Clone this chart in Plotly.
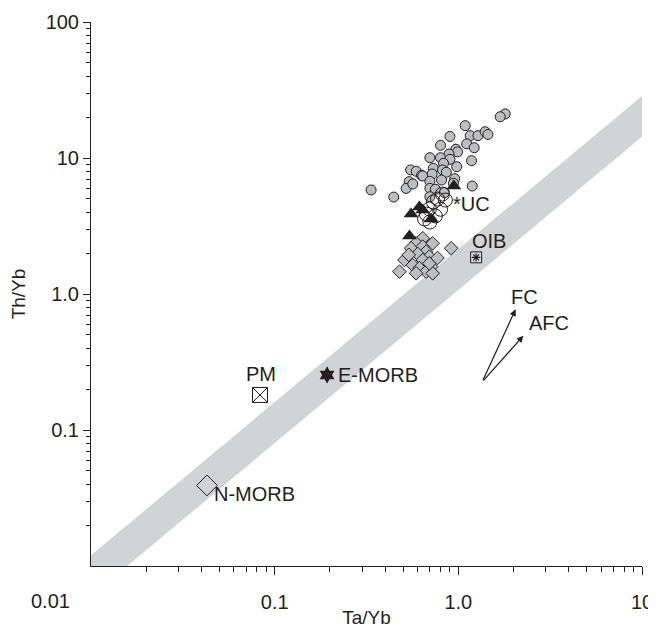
import numpy as np
import plotly.graph_objects as go

# ---------------- data ----------------
# sample groups (Ta/Yb, Th/Yb)
grp_circle_ta = [1.80, 1.69, 1.09, 1.16, 1.28, 1.40, 1.45, 0.90, 1.11, 1.22, 0.80, 0.97, 0.99,
                 0.89, 0.70, 0.80, 0.90, 1.18, 0.98, 0.73, 0.83, 0.82, 0.55, 0.59, 0.63, 0.64,
                 0.86, 0.72, 0.54, 0.52, 0.70, 0.81, 0.955, 0.94, 1.19, 0.70, 0.75, 0.84, 0.335,
                 0.445, 0.70, 0.565]
grp_circle_th = [21.1, 20.1, 17.3, 14.6, 14.6, 15.6, 14.9, 14.4, 12.7, 11.9, 12.4, 11.6, 11.1,
                 10.7, 10.05, 10.05, 9.78, 9.55, 8.63, 8.40, 9.14, 8.17, 8.17, 7.98, 7.46, 7.38,
                 7.85, 7.62, 6.70, 5.98, 6.74, 6.89, 7.05, 6.52, 6.22, 5.98, 5.89, 5.56, 5.82,
                 5.16, 5.19, 6.44]

grp_diamond_ta = [0.64, 0.589, 0.725, 0.553, 0.64, 0.668, 0.601, 0.695, 0.509, 0.64, 0.565,
                  0.711, 0.614, 0.668, 0.478, 0.914, 0.725, 0.589, 0.537, 0.695, 0.77]
grp_diamond_th = [2.57, 2.36, 2.36, 2.17, 2.23, 2.05, 1.97, 1.88, 1.78, 1.78, 1.63,
                  1.59, 1.55, 1.46, 1.46, 2.17, 1.42, 1.42, 1.94, 1.68, 1.84]

grp_open_ta = [0.819, 0.77, 0.732, 0.696, 0.67, 0.655, 0.70, 0.75, 0.80, 0.85]
grp_open_th = [5.43, 4.99, 4.75, 4.22, 3.87, 3.56, 3.38, 3.75, 4.20, 4.91]

grp_tri_ta = [0.946, 0.614, 0.553, 0.711, 0.542, 0.64]
grp_tri_th = [6.22, 4.37, 3.87, 3.56, 2.67, 4.15]

# reference compositions
ref_names = ["N-MORB", "PM", "E-MORB", "OIB", "UC"]
ref_ta_yb = [0.0428, 0.0832, 0.193, 1.25, 0.976]
ref_th_yb = [0.0391, 0.181, 0.254, 1.86, 4.67]

# MORB-OIB mantle array (upper and lower boundaries)
array_upper_ta = [0.01, 10.0]
array_upper_th = [0.0120, 28.6]
array_lower_ta = [10.0, 0.01]
array_lower_th = [14.3, 0.0060]

# process vectors
vec_origin = (1.35, 0.226)
vec_fc = (2.05, 0.772)
vec_afc = (2.26, 0.493)

x_ticks = [0.1, 1, 10]
x_tick_text = ["0.1", "1.0", "10"]
y_ticks = [0.1, 1, 10, 100]
y_tick_text = ["0.1", "1.0", "10", "100"]

# ---------------- figure ----------------
INK = "#231f20"
FONT = "Liberation Sans, Arial, Helvetica, sans-serif"

fig = go.Figure()

fig.add_trace(go.Scatter(
    x=array_upper_ta + array_lower_ta + [array_upper_ta[0]],
    y=array_upper_th + array_lower_th + [array_upper_th[0]],
    mode="lines", fill="toself", fillcolor="#d2d3d5",
    line=dict(width=0, color="#d2d3d5"), hoverinfo="skip"))

fig.add_trace(go.Scatter(
    x=grp_circle_ta, y=grp_circle_th, mode="markers",
    marker=dict(symbol="circle", size=10, color="#bcbec0", line=dict(color=INK, width=1))))

fig.add_trace(go.Scatter(
    x=grp_diamond_ta, y=grp_diamond_th, mode="markers",
    marker=dict(symbol="diamond", size=10.5, color="#bcbec0", line=dict(color=INK, width=1))))

fig.add_trace(go.Scatter(
    x=grp_open_ta, y=grp_open_th, mode="markers",
    marker=dict(symbol="circle-open", size=14, color=INK, line=dict(color=INK, width=1))))

fig.add_trace(go.Scatter(
    x=grp_tri_ta, y=grp_tri_th, mode="markers",
    marker=dict(symbol="triangle-up", size=13, color=INK, line=dict(color=INK, width=0))))

# reference symbols
fig.add_trace(go.Scatter(
    x=[ref_ta_yb[0]], y=[ref_th_yb[0]], mode="markers",
    marker=dict(symbol="diamond-open", size=16, color=INK, line=dict(color=INK, width=1))))
fig.add_trace(go.Scatter(
    x=[ref_ta_yb[1]], y=[ref_th_yb[1]], mode="markers",
    marker=dict(symbol="square-x-open", size=15, color=INK, line=dict(color=INK, width=1))))
fig.add_trace(go.Scatter(
    x=[ref_ta_yb[2]], y=[ref_th_yb[2]], mode="markers",
    marker=dict(symbol="hexagram", size=13, color=INK, line=dict(color=INK, width=0))))
fig.add_trace(go.Scatter(
    x=[ref_ta_yb[3]], y=[ref_th_yb[3]], mode="markers",
    marker=dict(symbol="square", size=11, color="#d9d9d9", line=dict(color=INK, width=1))))
fig.add_trace(go.Scatter(
    x=[ref_ta_yb[3]], y=[ref_th_yb[3]], mode="markers",
    marker=dict(symbol="asterisk-open", size=7, color=INK, line=dict(color=INK, width=1.2))))

ann_font = dict(family=FONT, size=20, color=INK)
label_style = {
    "N-MORB": dict(xanchor="left", xshift=5, yshift=-9, text="N-MORB"),
    "PM": dict(xanchor="center", xshift=1, yshift=21, text="PM"),
    "E-MORB": dict(xanchor="left", xshift=9, yshift=0, text="E-MORB"),
    "OIB": dict(xanchor="left", xshift=-6, yshift=16, text="OIB"),
    "UC": dict(xanchor="left", xshift=-5, yshift=-1, text="*UC"),
}
for name, tx, ty in zip(ref_names, ref_ta_yb, ref_th_yb):
    st = label_style[name]
    fig.add_annotation(x=np.log10(tx), y=np.log10(ty), text=st["text"], showarrow=False,
                       xanchor=st["xanchor"], yanchor="middle",
                       xshift=st["xshift"], yshift=st["yshift"], font=ann_font)

for tip, lab, dx, dy in [(vec_fc, "FC", 9, 12), (vec_afc, "AFC", 26, 13)]:
    fig.add_annotation(x=np.log10(tip[0]), y=np.log10(tip[1]),
                       ax=np.log10(vec_origin[0]), ay=np.log10(vec_origin[1]),
                       axref="x", ayref="y", xref="x", yref="y", text="",
                       showarrow=True, arrowhead=2, arrowsize=1.1, arrowwidth=1.2,
                       arrowcolor=INK)
    fig.add_annotation(x=np.log10(tip[0]), y=np.log10(tip[1]), text=lab, showarrow=False,
                       xanchor="center", yanchor="middle", xshift=dx, yshift=dy, font=ann_font)

# corner label 0.01
fig.add_annotation(xref="paper", yref="paper", x=-0.074, y=-0.064, text="0.01",
                   showarrow=False, xanchor="center", yanchor="middle", font=ann_font)

minor_x = [m * 10.0 ** e for e in (-2, -1, 0) for m in range(2, 10)]
minor_y = [m * 10.0 ** e for e in (-2, -1, 0, 1) for m in range(2, 10)]

# the page body adds an 8 px offset; the figure is sized so the plot sits where the reference has it
fig.update_layout(
    template="none",
    width=648, height=620,
    margin=dict(l=83, r=14, t=14, b=62, autoexpand=False),
    paper_bgcolor="white", plot_bgcolor="white",
    showlegend=False,
    font=dict(family=FONT, size=20, color=INK),
    xaxis=dict(type="log", range=[-2, 1], showgrid=False, zeroline=False, automargin=False,
               showline=True, linecolor=INK, linewidth=1, mirror=False,
               ticks="outside", ticklen=8, tickcolor=INK, tickwidth=1,
               tickvals=x_ticks, ticktext=x_tick_text, ticklabelstandoff=10,
               tickfont=dict(size=20),
               minor=dict(tickvals=minor_x, ticks="outside", ticklen=5, tickcolor=INK,
                          showgrid=False),
               title=dict(text="Ta/Yb", font=dict(size=19), standoff=10)),
    yaxis=dict(type="log", range=[-2, 2], showgrid=False, zeroline=False, automargin=False,
               showline=True, linecolor=INK, linewidth=1, mirror=False,
               ticks="outside", ticklen=7, tickcolor=INK, tickwidth=1,
               tickvals=y_ticks, ticktext=y_tick_text,
               tickfont=dict(size=20),
               minor=dict(tickvals=minor_y, ticks="outside", ticklen=4, tickcolor=INK,
                          showgrid=False),
               title=dict(text="Th/Yb", font=dict(size=19), standoff=16)),
)

fig.write_html("out.html")
